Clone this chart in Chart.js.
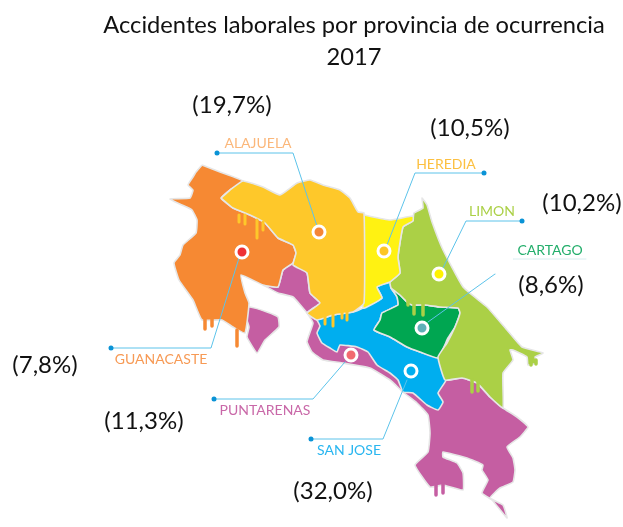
<!DOCTYPE html>
<html><head><meta charset="utf-8">
<style>html,body{margin:0;padding:0;background:#fff}canvas{display:block}</style>
<script src="https://cdn.jsdelivr.net/npm/chart.js@4"></script>
</head><body><canvas id="c" width="623" height="527"></canvas>
<script>
const titleLines=["Accidentes laborales por provincia de ocurrencia","2017"];
const provinces=["ALAJUELA","HEREDIA","LIMON","CARTAGO","GUANACASTE","PUNTARENAS","SAN JOSE"];
const shares=["(19,7%)","(10,5%)","(10,2%)","(8,6%)","(7,8%)","(11,3%)","(32,0%)"];
const guanacaste=[[202,165],[196,172],[193,177],[188,185],[193,190],[190,198],[170,199],[182,205],[192,210],[197,220],[196,233],[183,245],[180,255],[174,263],[179,280],[193,300],[202,320],[222,320],[233,327],[245,333],[249,303],[245,293],[241,275],[263,285],[278,287],[283,270],[293,263],[296,253],[293,245],[278,238],[265,223],[250,215],[233,208],[221,198],[230,190],[243,181],[220,172]];
const alajuela=[[221,198],[230,190],[243,181],[263,187],[280,195],[297,183],[310,180],[323,185],[340,190],[350,198],[358,212],[364,213],[364,303],[353,312],[333,315],[317,320],[307,313],[320,303],[310,293],[307,273],[293,265],[296,253],[293,245],[278,238],[265,223],[250,215],[233,208]];
const heredia=[[364,215],[390,220],[413,216],[413,221],[403,227],[398,257],[400,273],[390,282],[377,287],[382,298],[363,308]];
const limon=[[413,221],[414,213],[423,208],[422,198],[427,205],[432,222],[443,250],[463,287],[487,307],[507,330],[522,347],[543,353],[535,357],[537,363],[528,365],[527,357],[513,350],[510,350],[513,360],[503,373],[503,408],[490,397],[477,383],[462,378],[445,380],[438,357],[447,343],[455,327],[460,313],[458,308],[440,307],[425,305],[412,305],[407,302],[400,295],[391,288],[390,282],[400,273],[398,257],[403,227]];
const cartago=[[391,288],[400,295],[407,302],[412,305],[425,305],[440,307],[458,308],[460,313],[455,327],[448,338],[438,358],[420,352],[407,347],[390,337],[374,330],[380,320],[382,313],[398,305],[397,297]];
const sanJose=[[317,320],[333,315],[353,312],[363,308],[382,298],[377,287],[390,282],[391,288],[397,297],[398,305],[382,313],[380,320],[374,330],[390,337],[407,347],[420,352],[438,358],[446,380],[438,393],[443,402],[438,410],[427,405],[413,393],[403,392],[398,380],[390,373],[377,365],[368,352],[357,347],[340,345],[337,352],[330,348],[322,343],[317,333],[320,326]];
const puntarenas=[[263,285],[278,287],[283,270],[293,263],[307,273],[310,293],[320,303],[307,313],[317,320],[380,340],[445,380],[462,378],[477,383],[490,397],[503,408],[517,417],[528,427],[520,437],[507,447],[513,458],[515,470],[513,482],[500,488],[490,498],[503,505],[507,518],[492,500],[482,493],[488,480],[482,470],[483,465],[467,458],[443,452],[443,457],[457,463],[463,473],[463,490],[443,485],[430,487],[415,465],[428,452],[430,433],[428,415],[417,403],[403,392],[390,380],[370,368],[343,363],[323,360],[312,352],[307,342],[309,335],[313,323],[307,313],[293,297],[278,293]];
const nicoya=[[236,310],[250,307],[267,312],[278,317],[279,327],[265,340],[257,353],[247,337],[249,327],[245,316]];
const goldDrips=[[[239,215],[239,222]],[[245,215],[245,224]],[[257,220],[257,238]],[[263,222],[263,230]],[[325,315],[325,324]],[[333,313],[333,326]],[[342,312],[342,318]],[[347,312],[347,320]]];
const orangeDrips=[[[205,318],[205,329]],[[212,318],[212,326]],[[237,330],[237,346]]];
const limeDrips=[[[408,300],[408,305]],[[414,302],[414,314]],[[423,302],[423,315]],[[472,380],[472,392]],[[478,382],[478,391]],[[531,360],[531,365]],[[536,360],[536,364]]];
const purpleDrips=[[[436,484],[436,495]],[[443,484],[443,493]]];
const alajuelaLeader=[[217,153],[293,153],[317,226]];
const guanacasteLeader=[[111,348],[211,348],[239,258]];
const herediaLeader=[[484,173],[415,173],[387,245]];
const limonLeader=[[522,221],[466,221],[443,268]];
const cartagoLeader=[[495,274],[428,322]];
const puntarenasLeader=[[214,399],[313,399],[345,362]];
const sanJoseLeader=[[311,439],[383,439],[407,380]];
const cartagoRule=[[513,259],[586,259]];
const leaderEnds=[[217,153],[111,348],[484,173],[522,221],[214,399],[311,439]];
const markers=[[319,232],[242,252],[384,251],[439,274],[422,328],[411,371],[351,355]];
const markerFill=["#f58634","#ee3035","#fcc624","#fff200","#5fb0b8","#00aeef","#f26a70"];
const labelPos=[[258,143],[446,164],[492,211],[550,250],[161,359],[265,410],[349,450]];
const labelColor=["#fbb77a","#fcc040","#abd046","#23ae6b","#f79a55","#c968a8","#29b6f0"];
const sharePos=[[232,105],[470,128],[582,203],[551,285],[45,365],[144,421],[333,491]];

const pts=a=>a.map(p=>({x:p[0],y:p[1]}));
const ring=a=>pts(a.concat([a[0]]));
const area=(label,a,color,order)=>({label,data:ring(a),showLine:true,fill:'shape',backgroundColor:color,borderColor:'#e6e6e6',borderWidth:1.6,borderJoinStyle:'round',pointRadius:0,tension:0.12,order});
const stroke=(a,color,w,order)=>({data:pts(a),showLine:true,fill:false,borderColor:color,borderWidth:w,borderCapStyle:'round',pointRadius:0,order});
const leader='#5cc3ea';
const datasets=[
 area('Puntarenas',puntarenas,'#c55ea2',30),
 area('Puntarenas',nicoya,'#c55ea2',30),
 area('San José',sanJose,'#00aeef',29),
 area('Guanacaste',guanacaste,'#f68933',28),
 area('Cartago',cartago,'#00a651',27),
 area('Limón',limon,'#abd046',26),
 area('Heredia',heredia,'#fff212',25),
 area('Alajuela',alajuela,'#fec82a',24),
 ...goldDrips.map(d=>stroke(d,'#fec82a',3,20)),
 ...orangeDrips.map(d=>stroke(d,'#f68933',3.5,20)),
 ...limeDrips.map(d=>stroke(d,'#abd046',3.5,20)),
 ...purpleDrips.map(d=>stroke(d,'#c55ea2',3.5,20)),
 stroke(alajuelaLeader,leader,1,10),stroke(guanacasteLeader,leader,1,10),stroke(herediaLeader,leader,1,10),
 stroke(limonLeader,leader,1,10),stroke(cartagoLeader,leader,1,10),stroke(puntarenasLeader,leader,1,10),stroke(sanJoseLeader,leader,1,10),
 stroke(cartagoRule,'#d9eef0',1,10),
 {data:pts(leaderEnds),pointRadius:2.5,pointBackgroundColor:'#0a93d6',pointBorderWidth:0,showLine:false,order:5},
 {data:pts(markers),pointRadius:6,pointBackgroundColor:markerFill,pointBorderColor:'#fff',pointBorderWidth:3,showLine:false,order:1}
];
const textPlugin={id:'texts',afterDatasetsDraw(ch){
 const c=ch.ctx,X=ch.scales.x,Y=ch.scales.y;
 const put=(t,p,font,col)=>{c.font=font;c.fillStyle=col;c.textAlign='center';c.textBaseline='middle';c.fillText(t,X.getPixelForValue(p[0]),Y.getPixelForValue(p[1]));};
 c.save();
 put(titleLines[0],[354,25],'23.7px Lato','#111');
 put(titleLines[1],[354,57],'23.7px Lato','#111');
 provinces.forEach((t,i)=>put(t,labelPos[i],'14px Lato',labelColor[i]));
 shares.forEach((t,i)=>put(t,sharePos[i],'24px Lato','#111'));
 c.restore();
}};
new Chart(document.getElementById('c'),{type:'scatter',data:{datasets},plugins:[textPlugin],options:{
 responsive:false,animation:false,layout:{padding:0,autoPadding:false},
 plugins:{legend:{display:false},title:{display:false},tooltip:{enabled:false}},
 scales:{x:{type:'linear',min:0,max:623,display:false},y:{type:'linear',min:0,max:527,reverse:true,display:false}}
}});
</script></body></html>
